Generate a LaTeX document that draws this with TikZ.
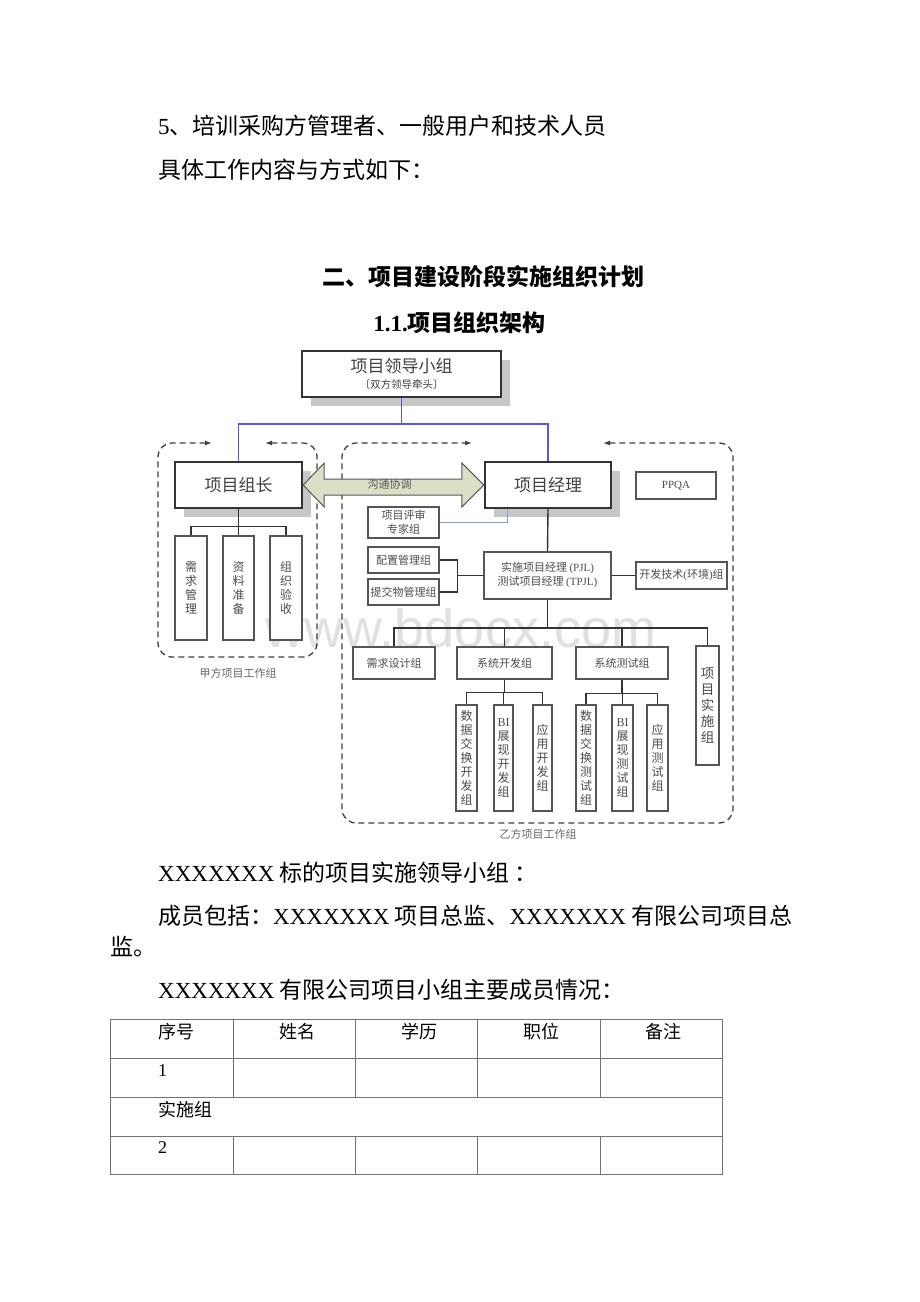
\documentclass[tikz,border=0pt]{standalone}
\usepackage{fontspec}
\setmainfont{Noto Sans CJK SC}
\newfontfamily\lat{Liberation Serif}
\newfontfamily\wmfont{Liberation Sans}
\usetikzlibrary{arrows.meta,shadows,calc}
\definecolor{linegray}{HTML}{333333}
\definecolor{boxgray}{HTML}{555555}
\definecolor{leadblue}{HTML}{5555F5}
\definecolor{paleblue}{HTML}{7FA2D6}
\definecolor{talkfill}{HTML}{DCDFC6}
\tikzset{
  mainbox/.style={draw=black!80, line width=2.4pt, fill=white, inner sep=1pt, text=black!75,
    drop shadow={shadow xshift=9pt, shadow yshift=-9pt, fill=black!22, opacity=1}},
  smallbox/.style={draw=boxgray, line width=1.3pt, fill=white, inner sep=1pt, text=black!70,
    font=\fontsize{11}{14}\selectfont, align=center},
  colbox/.style={smallbox, font=\fontsize{12}{14}\selectfont},
  conn/.style={draw=linegray, line width=1.4pt},
  blueconn/.style={draw=leadblue, line width=1.5pt},
  paleconn/.style={draw=paleblue, line width=1.2pt},
  talkarrow/.style={draw=black!65, line width=1pt, fill=talkfill},
  groupline/.style={draw=black!75, line width=1.3pt, dash pattern=on 6pt off 4pt, rounded corners=14pt,
    {Latex[length=7pt,width=5pt]}-{Latex[length=7pt,width=5pt]}},
  caption/.style={inner sep=0pt, text=black!60, font=\fontsize{11}{13}\selectfont},
  bodytext/.style={anchor=west, inner sep=0pt, font=\fontsize{23}{27}\selectfont},
  headtext/.style={inner sep=0pt, font=\fontsize{23}{27}\selectfont\bfseries},
  celltext/.style={inner sep=0pt, font=\fontsize{18}{22}\selectfont},
  tablegrid/.style={draw=black!55, line width=1pt}
}
\begin{document}
\begin{tikzpicture}[x=1pt,y=-1pt]
\useasboundingbox (0,0) rectangle (920,1302);
\fill[white] (0,0) rectangle (920,1302);
\node[anchor=base, inner sep=0pt, text=black!12, font=\fontsize{54}{60}\wmfont] (wm) at (461,647) {www.bdocx.com};

\node[bodytext] (line1) at (158,126) {{\lat 5}、培训采购方管理者、一般用户和技术人员};
\node[bodytext] (line2) at (158,170) {具体工作内容与方式如下：};
\node[headtext] (title) at (483.5,277) {二、项目建设阶段实施组织计划};
\node[headtext] (subtitle) at (459.5,323) {{\lat\bfseries 1.1.}项目组织架构};

\draw[groupline] (265,443) -- (317,443) -- (317,657) -- (158,657) -- (158,443) -- (212,443);
\draw[groupline] (603,443) -- (733,443) -- (733,823) -- (342,823) -- (342,443) -- (472,443);
\node[caption] (jiafang) at (238,673) {甲方项目工作组};
\node[caption] (yifang) at (538,834) {乙方项目工作组};

\node[mainbox, minimum width=199, minimum height=46, align=center, font=\fontsize{17}{18}\selectfont] (lead) at (401.5,374) {项目领导小组\\[-2pt]{\fontsize{10.5}{12}\selectfont〔双方领导牵头〕}};
\node[mainbox, minimum width=127, minimum height=46, font=\fontsize{17}{19}\selectfont] (zuzhang) at (238.5,485) {项目组长};
\node[mainbox, minimum width=126, minimum height=46, font=\fontsize{17}{19}\selectfont] (jingli) at (548,485) {项目经理};
\node[smallbox, minimum width=80, minimum height=27] (ppqa) at (676,485.5) {\lat PPQA};

\draw[talkarrow] (zuzhang.east) -- ++(21,-22) -- ++(0,16) -- ($(jingli.west)+(-22,-6)$) -- ++(0,-16) -- (jingli.west) -- ++(-22,22) -- ++(0,-12) -- ($(zuzhang.east)+(21,10)$) -- ++(0,12) -- cycle;
\node[caption, text=black!65] (talk) at ($(zuzhang.east)!0.5!(jingli.west)+(-4,-1)$) {沟通协调};

\node[colbox, minimum width=32, minimum height=104] (l1) at (191,588) {需\\求\\管\\理};
\node[colbox, minimum width=31, minimum height=104] (l2) at (238.5,588) {资\\料\\准\\备};
\node[colbox, minimum width=32, minimum height=104] (l3) at (286,588) {组\\织\\验\\收};

\node[smallbox, minimum width=71, minimum height=31] (pingshen) at (403.5,522.5) {项目评审\\专家组};
\node[smallbox, minimum width=71, minimum height=26] (peizhi) at (403.5,560) {配置管理组};
\node[smallbox, minimum width=71, minimum height=26] (tijiao) at (403.5,592) {提交物管理组};
\node[smallbox, minimum width=127, minimum height=47] (pjl) at (547.5,575.5) {实施项目经理 {\lat (PJL)}\\测试项目经理 {\lat (TPJL)}};
\node[smallbox, minimum width=91, minimum height=27] (kaifajs) at (681.5,575.5) {开发技术{\lat (}环境{\lat )}组};

\node[smallbox, minimum width=82, minimum height=32] (xuqiu) at (394,663) {需求设计组};
\node[smallbox, minimum width=95, minimum height=32] (kaifa) at (504.5,663) {系统开发组};
\node[smallbox, minimum width=92, minimum height=32] (ceshi) at (622,663) {系统测试组};
\node[colbox, minimum width=23, minimum height=119, font=\fontsize{13.5}{16}\selectfont] (shishi) at (707.5,705.5) {项\\目\\实\\施\\组};

\node[colbox, minimum width=21, minimum height=106] (dx1) at (466.5,758) {数\\据\\交\\换\\开\\发\\组};
\node[colbox, minimum width=19, minimum height=106] (dx2) at (503.5,758) {{\lat BI}\\展\\现\\开\\发\\组};
\node[colbox, minimum width=19, minimum height=106] (dx3) at (542.5,758) {应\\用\\开\\发\\组};
\node[colbox, minimum width=20, minimum height=106] (tc1) at (586,758) {数\\据\\交\\换\\测\\试\\组};
\node[colbox, minimum width=21, minimum height=106] (tc2) at (622.5,758) {{\lat BI}\\展\\现\\测\\试\\组};
\node[colbox, minimum width=21, minimum height=106] (tc3) at (657.5,758) {应\\用\\测\\试\\组};

\draw[blueconn] (lead.south) -- ++(0,26) -| (zuzhang.north);
\draw[blueconn] (lead.south) -- ++(0,26) -| (jingli.north);
\foreach \n in {l1,l2,l3} \draw[conn] (zuzhang.south) -- ++(0,17) -| (\n.north);
\draw[paleconn] (pingshen.east) -| ($(jingli.south west)+(24,0)$);
\draw[conn] (jingli.south) -- (pjl.north);
\draw[conn] (peizhi.east) -- ++(18,0) |- (pjl.west);
\draw[conn] (tijiao.east) -- ++(18,0) |- (pjl.west);
\draw[conn] (pjl.east) -- (kaifajs.west);
\foreach \n in {xuqiu,kaifa,ceshi,shishi} \draw[conn] (pjl.south) -- ++(0,28.5) -| (\n.north);
\foreach \n in {dx1,dx2,dx3} \draw[conn] (kaifa.south) -- ++(0,13) -| (\n.north);
\foreach \n in {tc1,tc2,tc3} \draw[conn] (ceshi.south) -- ++(0,14) -| (\n.north);

\node[bodytext] (para1) at (158,873) {{\lat XXXXXXX} 标的项目实施领导小组 ：};
\node[bodytext] (para2) at (158,916) {成员包括：{\lat XXXXXXX} 项目总监、{\lat XXXXXXX} 有限公司项目总};
\node[bodytext] (para2b) at (110,947) {监。};
\node[bodytext] (para3) at (158,990) {{\lat XXXXXXX} 有限公司项目小组主要成员情况：};

\draw[tablegrid] (110,1019) rectangle (722,1174);
\foreach \y in {1058,1097,1136} \draw[tablegrid] (110,\y) -- (722,\y);
\foreach \x in {233,355,477,600} {\draw[tablegrid] (\x,1019) -- (\x,1097); \draw[tablegrid] (\x,1136) -- (\x,1174);}
\node[celltext, anchor=west] (th1) at (158,1032) {序号};
\node[celltext] (th2) at (297,1032) {姓名};
\node[celltext] (th3) at (419,1032) {学历};
\node[celltext] (th4) at (541,1032) {职位};
\node[celltext] (th5) at (663,1032) {备注};
\node[celltext, anchor=west] (row1) at (158,1071) {\lat 1};
\node[celltext, anchor=west] (row2) at (158,1110) {实施组};
\node[celltext, anchor=west] (row3) at (158,1148) {\lat 2};
\end{tikzpicture}
\end{document}
